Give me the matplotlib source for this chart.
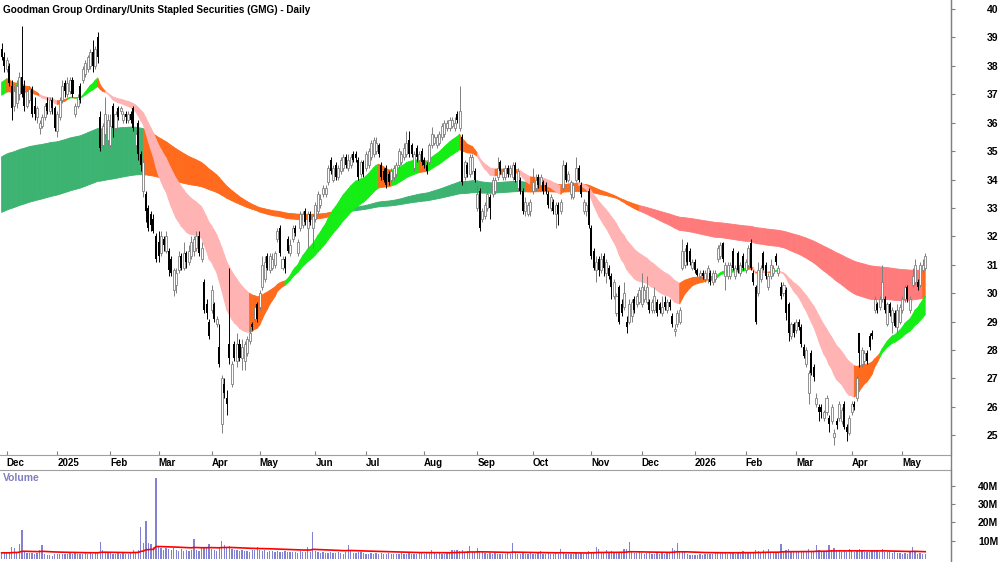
import matplotlib
matplotlib.use('Agg')
import matplotlib.pyplot as plt
import numpy as np
import pandas as pd
from matplotlib.collections import PolyCollection
from matplotlib.lines import Line2D

plt.rcParams['font.family'] = ['Liberation Sans', 'DejaVu Sans']

title = 'Goodman Group Ordinary/Units Stapled Securities (GMG) - Daily'

# daily bars, late Nov 2024 .. mid May 2026 (one row per month)
opens = [
    38.6, 38.3,
    37.9, 38.0, 37.3, 36.6, 36.7, 37.0, 37.6, 37.3, 36.6, 36.8, 37.2, 36.6, 36.2, 35.8, 35.9, 36.2, 36.7, 36.4, 36.8, 36.5,
    35.7, 36.2, 36.8, 37.4, 37.0, 37.1, 37.5, 36.3, 36.6, 37.3, 37.5, 37.7, 37.9, 38.0, 38.5, 38.0, 39.0, 36.2, 35.2, 35.6, 35.4,
    35.2, 36.6, 35.8, 36.5, 36.4, 36.1, 36.3, 36.1, 36.3, 36.5, 35.2, 36.0, 34.9, 33.6, 33.5, 33.0, 32.8, 32.6, 32.0,
    31.8, 31.4, 31.9, 31.5, 31.5, 31.2, 30.1, 30.3, 30.8, 31.3, 30.9, 31.4, 31.1, 31.3, 31.5, 31.6, 32.0, 31.2, 30.4, 29.6, 29.0,
    29.4, 29.6, 28.9, 28.1, 25.4, 26.8, 26.3, 28.2, 26.8, 28.2, 27.6, 28.2, 27.7, 27.6, 27.9, 28.3, 28.9, 29.1, 29.6,
    29.5, 30.2, 30.5, 31.3, 30.8, 30.9, 31.0, 31.9, 32.3, 30.9, 31.2, 31.9, 31.4, 31.9, 32.3, 31.4, 32.3, 32.4, 32.9, 32.3, 32.8, 32.3,
    32.6, 32.9, 33.1, 33.5, 33.5, 33.9, 34.7, 34.0, 34.5, 34.1, 34.3, 34.4, 34.8, 34.4, 34.5, 34.9, 34.9, 34.7, 34.2, 34.6,
    34.4, 34.5, 34.8, 34.9, 35.0, 35.2, 34.5, 34.3, 34.4, 34.2, 34.0, 34.1, 34.2, 34.5, 34.6, 34.8, 34.9, 35.4, 35.2, 34.4, 35.1, 34.7, 35.0,
    34.7, 34.5, 34.6, 35.2, 35.3, 35.2, 35.3, 35.5, 35.6, 35.8, 35.8, 35.9, 35.8, 36.3, 35.8, 35.5, 34.1, 34.5, 34.2, 34.3, 34.3,
    33.0, 33.6, 32.6, 32.7, 33.0, 33.4, 33.5, 33.6, 34.1, 34.6, 34.1, 34.1, 34.4, 34.2, 34.1, 34.5, 33.7, 34.0, 33.6, 32.9, 32.8, 32.9,
    33.6, 33.7, 34.1, 33.8, 33.9, 33.8, 33.5, 33.0, 33.2, 32.8, 33.1, 32.9, 33.7, 34.5, 34.0, 33.5, 33.4, 34.0, 34.4, 33.8, 32.9, 32.9, 33.6,
    32.3, 31.5, 30.8, 31.2, 30.8, 31.3, 30.7, 30.9, 30.6, 29.9, 29.3, 30.2, 29.6, 29.5, 29.0, 29.0, 29.2, 29.8, 29.6, 29.7,
    29.6, 29.8, 29.7, 29.7, 29.4, 29.4, 29.7, 29.6, 29.3, 29.7, 29.4, 29.7, 29.2, 28.65, 28.9, 29.0, 30.9, 31.0, 31.7, 31.5, 30.9,
    31.1, 30.8, 30.6, 30.7, 30.5, 30.5, 30.7, 30.4, 30.5, 31.2, 31.3, 31.75, 30.6, 30.6, 30.6, 31.5, 30.6, 31.4, 30.7, 31.3,
    30.8, 31.0, 31.75, 30.7, 30.2, 30.0, 30.5, 31.4, 31.0, 30.2, 30.6, 30.7, 31.3, 30.7, 30.2, 30.0, 30.1, 29.6, 28.5, 28.9,
    28.7, 29.0, 28.8, 28.1, 27.5, 26.5, 27.9, 27.4, 26.1, 26.0, 26.0, 25.6, 25.8, 25.6, 25.5, 24.93, 25.5, 25.6, 25.5, 26.1, 25.3, 25.07,
    25.8, 26.1, 26.3, 28.6, 27.5, 27.6, 27.9, 28.5, 28.6, 29.4, 29.6, 29.5, 29.8, 29.8, 28.9, 29.6, 29.0, 29.3, 28.8, 29.0,
    29.4, 29.8, 30.2, 29.4, 30.3, 30.4, 30.4, 30.3, 30.8, 30.9,
]
highs = [
    38.8, 38.5,
    38.3, 38.1, 37.5, 37.3, 37.5, 37.8, 39.4, 37.5, 37.2, 37.3, 37.3, 36.9, 36.6, 36.1, 36.3, 36.7, 36.9, 36.9, 36.9, 36.6,
    36.4, 36.9, 37.5, 37.5, 37.6, 37.6, 37.6, 36.7, 37.0, 37.4, 38.0, 38.2, 38.4, 38.6, 38.9, 38.7, 39.2, 36.4, 36.0, 36.9, 36.3,
    36.3, 36.7, 36.4, 36.6, 36.6, 36.4, 36.4, 36.4, 36.4, 36.6, 35.7, 36.1, 35.0, 34.7, 33.6, 33.1, 32.9, 32.8, 32.1,
    32.2, 32.2, 32.0, 32.2, 31.6, 31.3, 30.9, 30.9, 31.5, 31.4, 31.8, 31.5, 31.7, 32.0, 32.0, 32.2, 32.2, 31.8, 30.5, 29.8, 29.1,
    30.3, 29.7, 29.2, 28.9, 27.1, 27.0, 26.6, 30.9, 27.6, 28.3, 28.6, 28.4, 28.4, 28.3, 28.5, 28.8, 29.0, 29.6, 29.7,
    30.1, 31.3, 31.3, 31.4, 31.4, 31.4, 31.5, 32.3, 32.4, 31.3, 31.3, 32.0, 31.9, 32.4, 32.4, 31.9, 32.9, 32.9, 33.0, 32.9, 32.9, 32.8,
    33.2, 33.6, 33.5, 33.8, 33.8, 34.5, 34.8, 34.5, 34.6, 34.5, 34.8, 34.9, 34.9, 34.9, 34.9, 35.0, 35.0, 34.8, 34.7, 34.7,
    35.0, 35.1, 35.4, 35.5, 35.5, 35.3, 34.6, 34.4, 34.5, 34.3, 34.4, 34.5, 34.6, 35.1, 35.0, 35.3, 35.7, 35.7, 35.3, 35.0, 35.2, 35.0, 35.1,
    34.8, 34.6, 35.3, 35.85, 35.6, 35.6, 35.7, 36.0, 36.1, 36.1, 36.2, 36.2, 36.2, 36.4, 37.3, 35.6, 34.7, 34.6, 34.9, 34.9, 34.4,
    33.8, 33.7, 33.0, 33.2, 33.6, 33.5, 34.1, 34.1, 34.8, 34.7, 34.4, 34.5, 34.5, 34.5, 34.6, 34.6, 34.4, 34.1, 33.7, 33.4, 33.2, 33.3,
    34.4, 34.2, 34.2, 34.2, 34.0, 33.9, 33.6, 33.5, 33.3, 33.2, 33.2, 33.3, 34.7, 34.6, 34.3, 34.0, 33.9, 34.8, 34.5, 33.9, 33.3, 33.2, 33.7,
    32.4, 31.6, 31.3, 31.3, 31.4, 31.4, 31.2, 31.0, 30.7, 30.5, 30.0, 30.3, 29.8, 30.4, 29.2, 29.8, 29.8, 29.9, 30.0, 30.2,
    30.7, 30.3, 30.6, 29.8, 29.8, 30.2, 29.8, 29.7, 29.9, 29.9, 29.8, 29.8, 29.3, 28.9, 29.4, 29.5, 31.9, 31.6, 31.8, 31.6, 31.2,
    31.2, 30.9, 30.8, 30.8, 30.8, 31.0, 30.8, 30.8, 30.8, 31.7, 31.8, 31.8, 31.1, 31.1, 31.1, 31.6, 31.0, 31.5, 31.1, 31.4,
    31.2, 31.7, 31.9, 30.8, 30.3, 31.1, 31.0, 31.5, 31.1, 30.7, 31.2, 31.0, 31.4, 31.0, 30.4, 30.4, 30.2, 29.7, 29.0, 29.0,
    29.1, 29.1, 28.9, 28.2, 28.1, 27.3, 28.0, 27.5, 26.5, 26.1, 26.1, 25.9, 26.4, 25.7, 26.1, 25.2, 25.6, 26.2, 26.0, 26.2, 25.4, 25.7,
    26.2, 26.2, 27.1, 28.6, 28.1, 28.0, 28.0, 28.6, 28.7, 29.9, 29.7, 29.9, 31.0, 29.9, 29.7, 29.7, 29.5, 29.4, 29.6, 29.6,
    29.9, 30.3, 30.3, 29.9, 30.9, 31.2, 30.5, 31.1, 31.2, 31.4,
]
lows = [
    38.2, 37.8,
    37.8, 37.3, 36.1, 36.4, 36.5, 36.8, 36.9, 36.4, 36.5, 36.7, 36.2, 36.1, 36.0, 35.6, 35.8, 36.1, 36.3, 36.3, 36.3, 35.7,
    35.5, 36.1, 36.7, 36.9, 36.9, 37.0, 36.9, 36.2, 36.5, 36.7, 37.4, 37.6, 37.8, 37.9, 37.8, 37.9, 38.1, 35.0, 35.1, 35.5, 35.2,
    35.1, 35.5, 35.7, 36.1, 36.3, 36.0, 36.0, 36.0, 36.0, 35.7, 35.1, 34.7, 34.3, 33.4, 32.5, 32.2, 32.2, 32.1, 31.1,
    31.1, 31.3, 31.5, 31.4, 30.6, 30.6, 29.9, 30.0, 30.7, 30.8, 30.8, 30.9, 31.0, 31.2, 31.3, 31.5, 31.3, 31.1, 29.3, 29.1, 28.4,
    29.3, 29.0, 28.8, 27.4, 25.07, 26.3, 25.7, 27.5, 26.7, 27.6, 27.4, 27.6, 27.3, 27.3, 27.8, 28.2, 28.7, 29.0, 29.0,
    29.4, 30.1, 30.4, 30.8, 30.7, 30.8, 30.9, 31.8, 31.3, 30.8, 30.7, 31.4, 31.3, 31.8, 32.0, 31.3, 32.2, 32.3, 32.4, 31.6, 32.4, 31.6,
    32.5, 32.8, 33.0, 33.4, 33.4, 33.8, 34.2, 33.9, 34.0, 34.0, 34.2, 34.3, 34.4, 34.3, 34.4, 34.6, 34.6, 34.0, 34.1, 34.1,
    34.3, 34.4, 34.7, 34.8, 34.9, 34.8, 34.0, 33.9, 33.7, 33.8, 33.9, 34.0, 34.1, 34.4, 34.5, 34.7, 34.8, 34.8, 34.8, 34.3, 34.6, 34.6, 34.5,
    34.4, 34.2, 34.5, 35.1, 35.2, 35.1, 35.2, 35.4, 35.5, 35.7, 35.7, 35.8, 35.7, 36.0, 35.7, 33.8, 34.0, 34.1, 34.1, 34.2, 33.9,
    32.9, 32.2, 32.5, 32.6, 32.9, 32.6, 33.4, 33.5, 34.0, 34.2, 34.0, 34.0, 34.1, 34.1, 34.0, 33.9, 33.6, 33.5, 32.8, 32.7, 32.7, 32.7,
    33.5, 33.6, 33.7, 33.7, 33.5, 33.5, 33.0, 32.9, 32.8, 32.3, 32.4, 32.8, 33.6, 33.9, 33.9, 33.3, 33.3, 33.9, 33.9, 33.4, 32.8, 32.7, 32.3,
    31.2, 30.8, 30.4, 30.6, 30.7, 30.6, 30.35, 30.5, 29.8, 29.8, 29.2, 28.9, 29.2, 29.4, 28.6, 28.9, 29.0, 29.3, 29.5, 29.6,
    29.5, 29.7, 29.6, 29.3, 29.3, 29.3, 29.2, 29.3, 29.2, 29.4, 29.3, 29.4, 28.8, 28.5, 28.8, 28.9, 30.8, 30.9, 31.0, 31.0, 30.8,
    30.7, 30.6, 30.5, 30.5, 30.4, 30.35, 30.3, 30.3, 30.4, 31.1, 31.2, 31.1, 30.1, 30.5, 30.5, 30.8, 30.5, 30.7, 30.6, 30.8,
    30.7, 30.9, 30.8, 30.3, 28.9, 29.9, 30.4, 30.8, 30.5, 30.1, 30.5, 30.6, 31.0, 30.6, 29.8, 29.9, 29.05, 28.3, 28.4, 28.45,
    28.6, 28.7, 28.1, 27.7, 27.4, 26.1, 27.1, 26.9, 26.0, 25.5, 25.6, 25.5, 25.7, 25.1, 25.4, 24.65, 25.2, 25.5, 25.4, 25.2, 24.8, 25.0,
    25.7, 25.9, 26.2, 27.4, 27.4, 27.5, 27.5, 28.0, 28.4, 29.3, 29.3, 29.4, 29.7, 29.3, 28.85, 29.2, 28.6, 28.8, 28.6, 28.9,
    29.3, 29.7, 29.7, 29.3, 30.2, 30.3, 30.1, 30.2, 30.7, 30.8,
]
closes = [
    38.3, 38.0,
    38.2, 37.4, 36.5, 37.1, 37.3, 37.6, 37.0, 36.6, 37.1, 37.2, 36.3, 36.3, 36.5, 36.0, 36.2, 36.6, 36.4, 36.8, 36.5, 35.8,
    36.3, 36.8, 37.3, 37.1, 37.4, 37.5, 37.0, 36.6, 36.9, 36.8, 37.9, 38.1, 38.3, 38.5, 38.0, 38.6, 38.3, 35.1, 35.9, 36.3, 36.1,
    35.9, 35.8, 36.3, 36.2, 36.5, 36.3, 36.2, 36.3, 36.1, 35.8, 35.6, 34.9, 34.5, 34.6, 32.9, 32.3, 32.4, 32.2, 31.2,
    31.3, 32.0, 31.7, 32.0, 30.8, 30.7, 30.8, 30.7, 31.3, 30.9, 31.4, 31.1, 31.5, 31.8, 31.9, 32.0, 31.4, 31.6, 29.4, 29.3, 28.5,
    30.1, 29.1, 29.1, 27.5, 27.0, 26.5, 26.1, 27.7, 27.5, 27.7, 28.2, 27.7, 28.1, 28.2, 28.4, 28.6, 28.8, 29.5, 29.1,
    30.0, 31.0, 31.1, 30.9, 31.3, 31.2, 31.4, 32.2, 31.4, 31.2, 30.9, 31.5, 31.7, 32.3, 32.1, 31.8, 32.8, 32.8, 32.5, 32.8, 32.5, 32.7,
    33.1, 33.5, 33.3, 33.7, 33.7, 34.4, 34.3, 34.4, 34.1, 34.4, 34.7, 34.8, 34.5, 34.7, 34.8, 34.7, 34.75, 34.1, 34.6, 34.2,
    34.9, 35.0, 35.3, 35.4, 35.3, 34.9, 34.1, 34.0, 33.8, 33.9, 34.3, 34.4, 34.5, 35.0, 34.9, 35.1, 35.3, 34.9, 34.9, 34.9, 34.8, 34.9, 34.6,
    34.5, 34.3, 35.2, 35.6, 35.5, 35.5, 35.6, 35.9, 36.0, 36.0, 36.1, 36.1, 36.0, 36.1, 36.4, 33.9, 34.6, 34.2, 34.8, 34.8, 34.0,
    33.5, 32.3, 32.9, 33.1, 33.5, 33.0, 34.0, 34.0, 34.4, 34.3, 34.3, 34.4, 34.2, 34.4, 34.5, 34.0, 34.3, 33.6, 32.9, 33.2, 33.1, 33.2,
    33.9, 34.0, 33.8, 34.1, 33.6, 33.6, 33.1, 33.4, 32.9, 33.1, 32.8, 33.2, 34.5, 34.0, 34.2, 33.9, 33.8, 34.4, 34.0, 33.5, 33.2, 33.1, 32.4,
    31.3, 30.9, 31.1, 30.8, 31.2, 30.9, 31.1, 30.6, 30.2, 30.4, 29.9, 29.0, 29.3, 30.0, 28.8, 29.6, 29.7, 29.4, 29.9, 30.1,
    30.2, 30.1, 30.2, 29.4, 29.7, 29.9, 29.3, 29.4, 29.5, 29.5, 29.7, 29.5, 28.9, 28.75, 29.3, 29.4, 31.5, 31.5, 31.1, 31.1, 31.1,
    30.8, 30.65, 30.7, 30.6, 30.7, 30.9, 30.4, 30.7, 30.7, 31.6, 31.7, 31.2, 31.0, 31.0, 31.0, 30.9, 30.9, 30.8, 31.0, 30.9,
    31.1, 31.6, 30.9, 30.4, 29.0, 30.8, 30.9, 30.9, 30.6, 30.6, 31.0, 30.9, 31.1, 30.9, 29.9, 30.3, 29.3, 28.6, 28.9, 28.6,
    29.0, 28.8, 28.2, 27.8, 28.0, 27.2, 27.2, 27.05, 26.3, 25.8, 25.8, 25.8, 26.3, 25.4, 26.0, 25.07, 25.35, 26.1, 25.9, 25.3, 25.1, 25.6,
    26.1, 26.0, 27.0, 27.9, 28.0, 27.9, 27.6, 28.1, 28.5, 29.8, 29.4, 29.8, 30.4, 29.4, 29.6, 29.3, 29.4, 28.85, 29.4, 29.5,
    29.8, 30.2, 29.8, 29.8, 30.6, 31.0, 30.2, 31.0, 31.0, 31.3,
]
# volume in millions of units
volume_m = [
    3.4, 3.1,
    3.6, 3.2, 6.4, 5.8, 3.5, 8.0, 16.0, 4.2, 3.5, 3.2, 3.4, 3.0, 3.3, 5.0, 7.6, 2.8, 2.2, 2.0, 1.8, 2.6,
    2.5, 2.8, 3.0, 2.6, 2.9, 3.1, 2.7, 3.2, 2.9, 2.6, 3.0, 3.3, 2.8, 3.1, 2.9, 3.4, 3.6, 9.3, 5.0, 3.8, 3.4,
    3.2, 3.0, 2.8, 3.1, 2.9, 3.3, 2.7, 3.0, 3.2, 5.0, 3.8, 5.2, 17.6, 9.0, 21.0, 8.5, 8.0, 6.5, 44.5,
    7.0, 5.8, 5.2, 6.0, 5.5, 4.8, 6.2, 5.0, 4.6, 5.3, 4.4, 5.1, 4.2, 4.8, 11.0, 5.0, 4.4, 6.0, 6.2, 5.8, 8.4,
    5.6, 5.0, 4.6, 6.3, 9.6, 7.6, 6.4, 7.0, 5.4, 4.8, 5.2, 4.4, 4.9, 4.2, 4.6, 4.0, 4.8, 5.2, 6.7,
    5.0, 4.4, 4.8, 3.9, 4.6, 4.2, 3.8, 4.5, 4.1, 3.7, 4.3, 3.9, 4.0, 3.6, 3.8, 3.5, 4.2, 3.7, 4.0, 6.7, 3.8, 15.0,
    4.2, 3.6, 3.4, 3.8, 3.2, 3.5, 3.9, 3.3, 3.1, 3.6, 3.4, 3.0, 3.8, 7.6, 4.4, 3.5, 3.2, 3.6, 3.9, 3.3,
    3.0, 2.8, 3.3, 2.7, 3.1, 2.9, 3.4, 3.0, 2.6, 3.2, 2.8, 2.5, 3.0, 2.7, 3.1, 2.6, 2.9, 3.3, 2.7, 2.5, 2.9, 3.2, 3.5,
    3.0, 3.4, 3.1, 5.0, 3.2, 2.9, 3.3, 3.0, 2.8, 3.2, 3.5, 4.8, 5.0, 5.2, 4.6, 5.0, 3.8, 4.4, 7.0, 3.6, 3.9,
    5.8, 4.5, 3.6, 3.2, 3.0, 3.4, 2.8, 3.1, 2.7, 3.0, 2.6, 2.9, 3.2, 2.8, 8.9, 3.3, 2.7, 3.0, 3.4, 2.9, 2.6, 3.1,
    2.9, 2.7, 3.2, 4.5, 2.8, 3.0, 3.3, 2.6, 2.9, 3.1, 2.7, 5.3, 3.4, 2.9, 2.6, 3.0, 2.8, 3.2, 2.9, 3.1, 2.7, 3.4, 4.2,
    4.0, 3.6, 6.4, 5.6, 3.5, 3.8, 5.0, 3.4, 4.6, 3.2, 3.6, 3.9, 3.3, 5.5, 5.6, 9.3, 3.8, 3.4, 3.1, 3.6,
    3.2, 2.9, 3.4, 4.0, 3.0, 2.8, 3.1, 2.7, 3.3, 2.9, 3.1, 3.5, 5.8, 5.2, 8.5, 4.0, 4.6, 3.6, 3.0, 2.4, 2.2,
    2.3, 2.1, 2.6, 2.4, 2.8, 3.0, 2.7, 2.9, 3.2, 3.6, 3.1, 3.4, 3.8, 3.0, 3.3, 3.5, 2.9, 3.2, 3.6, 4.5,
    3.4, 3.8, 3.5, 4.0, 5.0, 4.2, 3.6, 5.2, 3.8, 5.5, 4.0, 3.5, 3.7, 4.1, 8.2, 4.4, 5.0, 5.4, 4.6, 4.0,
    3.8, 4.2, 3.9, 4.6, 4.1, 5.5, 4.4, 4.0, 7.6, 4.8, 4.3, 4.0, 4.5, 7.6, 5.0, 6.0, 4.4, 4.2, 3.8, 4.6, 4.1, 5.5,
    4.4, 3.9, 4.5, 5.5, 4.2, 3.8, 4.0, 3.6, 5.0, 4.8, 5.0, 3.9, 5.5, 4.0, 3.6, 4.2, 3.4, 3.8, 3.2, 3.5,
    3.0, 3.4, 2.8, 3.6, 6.4, 4.2, 3.0, 3.3, 2.6, 2.9,
]

# first bar of each month and its axis label
month_starts = [2, 22, 43, 62, 83, 102, 124, 144, 167, 188, 210, 233, 253, 274, 294, 314, 336, 356]
month_labels = ['Dec', '2025', 'Feb', 'Mar', 'Apr', 'May', 'Jun', 'Jul', 'Aug', 'Sep',
                'Oct', 'Nov', 'Dec', '2026', 'Feb', 'Mar', 'Apr', 'May']

# moving average ribbons: periods and their values at the left edge of the chart
short_periods = [20, 24, 28, 32, 36, 40]
short_start = [37.33, 37.25, 37.17, 37.09, 37.0, 36.9]
long_periods = [140, 160, 180, 200, 225, 260]
long_start = [34.75, 34.3, 33.9, 33.5, 33.15, 32.8]


def ema(values, period, seed):
    a = 2.0 / (period + 1)
    out = np.empty(len(values))
    prev = seed
    for k, v in enumerate(values):
        prev = prev + a * (v - prev)
        out[k] = prev
    return out


def draw_ribbon(ax, lines, ref, bull, bear, mixed, strict_down):
    arr = np.vstack(lines)
    lo, hi = arr.min(axis=0), arr.max(axis=0)
    up_order = arr[0] > arr[-1]
    if strict_down:
        down_order = np.all(arr[:-1] < arr[1:], axis=0)
    else:
        down_order = arr[0] < arr[-1]
    up = up_order & (ref > arr[0])
    down = down_order & (ref < arr[0])
    cols = np.where(up, bull, np.where(down, bear, mixed))
    verts = [[(k, lo[k]), (k + 1, lo[k + 1]), (k + 1, hi[k + 1]), (k, hi[k])]
             for k in range(len(lo) - 1)]
    pc = PolyCollection(verts, facecolors=cols[1:], edgecolors=cols[1:],
                        linewidths=0.6, zorder=1)
    ax.add_collection(pc)


o = np.array(opens)
h = np.array(highs)
l = np.array(lows)
c = np.array(closes)
vol = np.array(volume_m) * 1e6
x = np.arange(len(c))

fig = plt.figure(figsize=(10, 5.62), dpi=100)
ax = fig.add_axes([0, 107 / 562, 0.951, 455 / 562])
axv = fig.add_axes([0, 0, 0.951, 92 / 562])

long_lines = [ema(c, p, s) for p, s in zip(long_periods, long_start)]
short_lines = [ema(c, p, s) for p, s in zip(short_periods, short_start)]
# long ribbon is judged against the fast edge of the short ribbon, short ribbon against price
draw_ribbon(ax, long_lines, short_lines[0], '#3cb371', '#ff7b7b', '#ff6a1c', True)
draw_ribbon(ax, short_lines, c, '#14ee14', '#ffb3b3', '#ff6a1c', False)

# candles
up = c >= o
body_lo = np.minimum(o, c)
body_h = np.maximum(np.abs(c - o), 0.04)
ax.vlines(x[up], l[up], h[up], color='#808080', lw=0.7, zorder=3)
ax.vlines(x[~up], l[~up], h[~up], color='black', lw=0.7, zorder=3)
ax.bar(x[up], body_h[up], bottom=body_lo[up], width=0.8, facecolor='white',
       edgecolor='#808080', linewidth=0.6, zorder=4)
ax.bar(x[~up], body_h[~up], bottom=body_lo[~up], width=0.8, color='black', zorder=4)

ax.set_xlim(-0.65, 375.2)
ax.set_ylim(24.30, 40.32)
ax.yaxis.tick_right()
ax.set_yticks(range(25, 41))
ax.tick_params(axis='y', direction='out', length=3, color='#808080', labelsize=7.5, pad=31)
for lbl in ax.get_yticklabels():
    lbl.set_ha('right')
    lbl.set_fontweight('bold')
ax.set_xticks(month_starts)
ax.set_xticklabels(month_labels)
ax.tick_params(axis='x', direction='in', length=3, color='#808080', labelsize=7, pad=2)
for lbl in ax.get_xticklabels():
    lbl.set_ha('left')
    lbl.set_fontweight('bold')
for s in ['left', 'top']:
    ax.spines[s].set_visible(False)
ax.spines['bottom'].set_color('#a0a0a0')
ax.spines['right'].set_color('#808080')

# volume panel
axv.bar(x, vol, width=0.5, color='#8282d2', zorder=2)
vol_ma = pd.Series(vol).ewm(span=50, adjust=False).mean()
axv.plot(x, vol_ma, color='#ff0000', lw=1.2, zorder=3)
axv.set_xlim(-0.65, 375.2)
axv.set_ylim(-1.6e6, 48.6e6)
axv.set_xticks([])
axv.yaxis.tick_right()
axv.set_yticks([10e6, 20e6, 30e6, 40e6])
axv.set_yticklabels(['10M', '20M', '30M', '40M'])
axv.tick_params(axis='y', direction='out', length=3, color='#808080', labelsize=7.5, pad=31)
for lbl in axv.get_yticklabels():
    lbl.set_ha('right')
    lbl.set_fontweight('bold')
for s in ['left', 'bottom']:
    axv.spines[s].set_visible(False)
axv.spines['top'].set_color('#a0a0a0')
axv.spines['right'].set_color('#808080')
axv.text(0.003, 0.913, 'Volume', transform=axv.transAxes, color='#8080c0',
         fontsize=7.5, fontweight='bold', va='center')

fig.add_artist(Line2D([0.951, 0.951], [0, 1], transform=fig.transFigure, color='#808080', lw=1))
fig.text(0.003, 1 - 10 / 562, title, fontsize=7.2, fontweight='bold', va='center')

fig.savefig('out.png', dpi=100)
